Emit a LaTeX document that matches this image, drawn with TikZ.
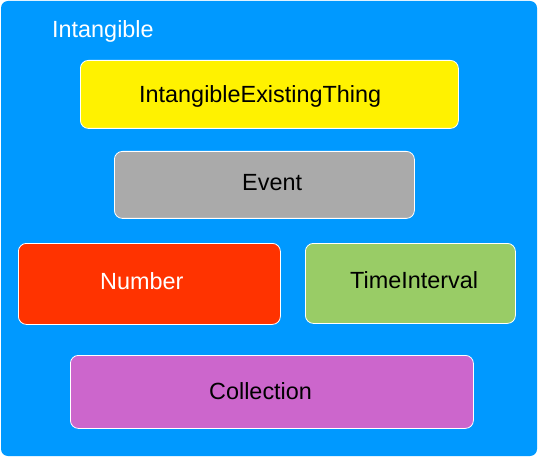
\documentclass[tikz,border=0pt]{standalone}
\usepackage{fontspec}
\setmainfont{Liberation Sans}
\usetikzlibrary{positioning}
\definecolor{skyblue}{HTML}{0099FF}
\definecolor{greybox}{HTML}{AAAAAA}
\definecolor{redbox}{HTML}{FF3300}
\definecolor{greenbox}{HTML}{99CC66}
\definecolor{purplebox}{HTML}{CC66CC}

\begin{document}
\begin{tikzpicture}[x=1pt,y=-1pt]
\tikzstyle{every node}+=[inner sep=0pt]
\tikzstyle{box}=[draw=white, line width=0.8pt, rounded corners=8pt, anchor=north west]
\tikzstyle{txt}=[anchor=base west, font=\fontsize{23.4}{27}\selectfont]
\useasboundingbox (0,0) rectangle (538,457);
\fill [skyblue, rounded corners=7pt] (1,1) rectangle (537,456);
\node [txt, text=white] (intangible) at (52,38) {Intangible};
\node [box, fill=yellow, minimum width=378pt, minimum height=68pt] (iet) at (80,60) {};
\node [txt] (ietlabel) at (139,103) {IntangibleExistingThing};
\node [box, fill=greybox, minimum width=300pt, minimum height=67pt] (event) at (114,151) {};
\node [txt] (eventlabel) at (242,191) {Event};
\node [box, fill=redbox, minimum width=262pt, minimum height=81pt] (number) at (18,243) {};
\node [txt, text=white] (numberlabel) at (100,289) {Number};
\node [box, fill=greenbox, minimum width=210pt, minimum height=80pt] (timeint) at (305,243) {};
\node [txt] (timeintlabel) at (350,288) {TimeInterval};
\node [box, fill=purplebox, minimum width=403pt, minimum height=73pt] (collection) at (70,355) {};
\node [txt] (collectionlabel) at (209,399) {Collection};
\end{tikzpicture}
\end{document}
